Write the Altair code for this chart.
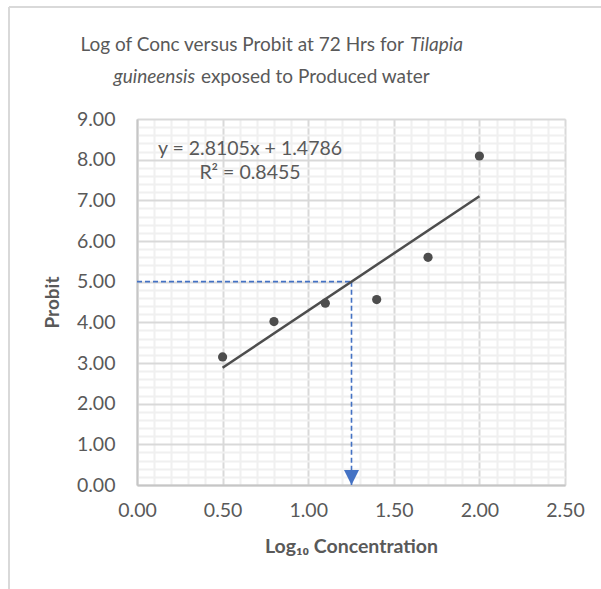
import altair as alt
import pandas as pd

# Log10 concentration and observed probit values
log_conc = [0.5, 0.8, 1.1, 1.4, 1.7, 2.0]
probit = [3.15, 4.02, 4.47, 4.56, 5.60, 8.09]

# Linear trend fitted to the points
slope = 2.8105
intercept = 1.4786
r_squared = 0.8455

probit_50 = 5.0
lc50_log = (probit_50 - intercept) / slope

x_ticks = [round(i * 0.1, 1) for i in range(26)]
y_ticks = [round(i * 0.2, 1) for i in range(46)]

FONT = "Lato"
GREY = "#595959"
DARK = "#4d4d4d"
BLUE = "#4472C4"

points = pd.DataFrame({"x": log_conc, "y": probit})
trend = pd.DataFrame({"x": [log_conc[0], log_conc[-1]]})
trend["y"] = slope * trend["x"] + intercept
h_guide = pd.DataFrame({"x": [0.0], "x2": [lc50_log], "y": [probit_50]})
v_guide = pd.DataFrame({"x": [lc50_log], "y": [probit_50], "y2": [0.0]})
arrow = pd.DataFrame({"x": [lc50_log], "y": [0.0]})
one = pd.DataFrame({"k": [0]})

x_scale = alt.Scale(domain=[0, 2.5], nice=False, zero=False)
y_scale = alt.Scale(domain=[0, 9], nice=False, zero=False)

major_x = "abs(datum.value * 2 - round(datum.value * 2)) < 1e-6"
major_y = "abs(datum.value - round(datum.value)) < 1e-6"

x_axis = alt.Axis(
    values=x_ticks, tickCount=200,
    title="Log₁₀ Concentration",
    titleFont=FONT, titleFontSize=19.5, titleFontWeight="bold", titleColor=GREY,
    titlePadding=18,
    labelExpr=f"{major_x} ? format(datum.value, '.2f') : ''",
    labelFont=FONT, labelFontSize=19.5, labelColor=GREY, labelPadding=16,
    labelFlush=False, labelOverlap=False,
    ticks=False, domainColor="#c6c6c6", domainWidth=2,
    grid=True,
    gridColor={"condition": {"test": major_x, "value": "#d9d9d9"}, "value": "#f0f0f0"},
    gridWidth=2,
)
y_axis = alt.Axis(
    values=y_ticks, tickCount=200,
    title="Probit",
    titleFont=FONT, titleFontSize=19, titleFontWeight="bold", titleColor=GREY,
    titlePadding=14,
    labelExpr=f"{major_y} ? format(datum.value, '.2f') : ''",
    labelFont=FONT, labelFontSize=19.5, labelColor=GREY, labelPadding=22,
    labelFlush=False, labelOverlap=False,
    ticks=False, domainColor="#c6c6c6", domainWidth=2,
    grid=True,
    gridColor={"condition": {"test": major_y, "value": "#d9d9d9"}, "value": "#f0f0f0"},
    gridWidth=2,
)

base_pts = alt.Chart(points).mark_circle(size=85, color=DARK, opacity=1).encode(
    x=alt.X("x:Q", scale=x_scale, axis=x_axis),
    y=alt.Y("y:Q", scale=y_scale, axis=y_axis),
)

trend_line = alt.Chart(trend).mark_line(color=DARK, strokeWidth=2.5).encode(
    x=alt.X("x:Q", scale=x_scale), y=alt.Y("y:Q", scale=y_scale)
)

h_line = alt.Chart(h_guide).mark_rule(color=BLUE, strokeWidth=1.6, strokeDash=[5, 3]).encode(
    x=alt.X("x:Q", scale=x_scale), x2="x2:Q", y=alt.Y("y:Q", scale=y_scale)
)
v_line = alt.Chart(v_guide).mark_rule(color=BLUE, strokeWidth=1.6, strokeDash=[5, 3]).encode(
    x=alt.X("x:Q", scale=x_scale), y=alt.Y("y:Q", scale=y_scale), y2="y2:Q"
)
arrow_head = alt.Chart(arrow).mark_point(
    shape="M-1,-1L1,-1L0,1Z", size=225, filled=True, color=BLUE, opacity=1, yOffset=-7.5
).encode(x=alt.X("x:Q", scale=x_scale), y=alt.Y("y:Q", scale=y_scale))

eq = pd.DataFrame({
    "x": [0.66, 0.66],
    "y": [8.27, 7.68],
    "t": [f"y = {slope}x + {intercept}", f"R² = {r_squared}"],
})
eq_text = alt.Chart(eq).mark_text(font=FONT, fontSize=19.5, color=GREY, align="center", baseline="middle").encode(
    x=alt.X("x:Q", scale=x_scale), y=alt.Y("y:Q", scale=y_scale), text="t:N"
)

def title_piece(text, x, y, align, italic=False):
    return alt.Chart(one).mark_text(
        font=FONT, fontSize=19, color=GREY, align=align, baseline="alphabetic",
        fontStyle="italic" if italic else "normal",
    ).encode(x=alt.value(x), y=alt.value(y), text=alt.value(text))

title_layers = [
    title_piece("Log of Conc versus Probit at  72 Hrs for", 267, -68, "right"),
    title_piece("Tilapia", 273, -68, "left", italic=True),
    title_piece("guineensis", 58, -36, "right", italic=True),
    title_piece("exposed to Produced water", 64, -36, "left"),
]

# light chart-area frame along the top and left edges
frame_top = alt.Chart(one).mark_rule(color="#d9d9d9", strokeWidth=2).encode(
    x=alt.value(-128), x2=alt.value(480), y=alt.value(-112)
)
frame_left = alt.Chart(one).mark_rule(color="#d9d9d9", strokeWidth=2).encode(
    x=alt.value(-128), y=alt.value(-112), y2=alt.value(480)
)

chart = alt.layer(
    frame_top, frame_left,
    h_line, v_line, arrow_head, trend_line, base_pts, eq_text,
    *title_layers,
).properties(
    width=428, height=366,
    autosize=alt.AutoSizeParams(type="none"),
    padding={"left": 137, "top": 119, "right": 36, "bottom": 104},
).configure_view(stroke=None).configure(background="white")

chart.save("out.html", embed_options={"renderer": "svg", "actions": False})
